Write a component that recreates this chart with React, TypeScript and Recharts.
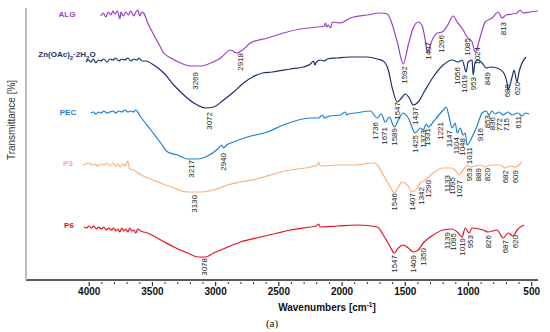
import { ComposedChart, Line, Scatter, XAxis, YAxis, Label } from "recharts";

// spectra: [wavenumber, offset transmittance]
const algSpectrum: [number, number][] = [
  [3908, 264], [3888, 267], [3868, 263], [3849, 268], [3829, 265], [3813, 269], [3797, 266], [3777, 269],
  [3757, 261], [3750, 268], [3730, 264], [3710, 268], [3690, 265], [3671, 269], [3647, 264], [3631, 268],
  [3616, 270], [3600, 264], [3584, 268], [3569, 267], [3537, 257], [3497, 247], [3458, 238], [3410, 227],
  [3355, 222], [3276, 217], [3197, 214], [3118, 214], [3039, 217], [2960, 222], [2882, 230], [2834, 227],
  [2787, 230], [2724, 237], [2590, 242], [2464, 247], [2329, 251], [2195, 253], [2140, 254], [2132, 257],
  [2120, 253], [2108, 255], [2090, 252], [2077, 258], [2013, 257], [1934, 262], [1800, 265], [1697, 267],
  [1642, 266], [1610, 258], [1563, 238], [1516, 216], [1476, 235], [1437, 252], [1397, 258], [1366, 254],
  [1342, 240], [1326, 228], [1287, 240], [1247, 247], [1208, 248], [1168, 254], [1121, 264], [1089, 258],
  [1042, 250], [1011, 243], [971, 238], [947, 228], [907, 243], [868, 258], [813, 262], [766, 268],
  [734, 262], [703, 265], [655, 266], [616, 267], [592, 270], [568, 267], [513, 268], [450, 269],
];

const znSpectrum: [number, number][] = [
  [4026, 218], [4006, 220], [3987, 218], [3967, 221], [3947, 217], [3928, 220], [3908, 219], [3884, 221],
  [3860, 218], [3837, 221], [3813, 220], [3790, 222], [3766, 219], [3742, 221], [3718, 220], [3695, 222],
  [3671, 219], [3647, 221], [3624, 220], [3604, 222], [3584, 219], [3553, 219], [3489, 215], [3410, 207],
  [3331, 195], [3252, 185], [3173, 177], [3079, 172], [3016, 173], [2937, 180], [2858, 188], [2779, 197],
  [2708, 203], [2629, 207], [2550, 208], [2408, 211], [2305, 213], [2250, 216], [2226, 219], [2215, 215],
  [2203, 218], [2171, 220], [2140, 219], [2116, 221], [2037, 222], [1934, 223], [1800, 223], [1721, 221],
  [1674, 219], [1634, 210], [1603, 192], [1563, 178], [1524, 183], [1500, 186], [1468, 182], [1437, 175],
  [1397, 178], [1342, 190], [1279, 203], [1200, 215], [1129, 220], [1082, 218], [1050, 220], [1018, 208],
  [1003, 218], [971, 220], [963, 205], [947, 218], [924, 220], [892, 217], [860, 212], [829, 213],
  [774, 212], [726, 208], [695, 197], [687, 190], [655, 203], [640, 210], [616, 198], [600, 208],
  [545, 223],
];

const pecSpectrum: [number, number][] = [
  [3987, 167], [3967, 168], [3947, 166], [3928, 168], [3908, 167], [3884, 169], [3860, 167], [3837, 168],
  [3813, 169], [3790, 167], [3766, 169], [3742, 168], [3718, 170], [3695, 168], [3671, 169], [3652, 168],
  [3632, 170], [3592, 163], [3513, 150], [3434, 137], [3379, 128], [3300, 125], [3221, 121], [3142, 121],
  [3063, 124], [2984, 131], [2952, 135], [2937, 132], [2913, 135], [2858, 138], [2748, 143], [2590, 148],
  [2464, 155], [2250, 162], [2187, 162], [2155, 165], [2140, 162], [2124, 163], [2092, 164], [2013, 165],
  [1974, 168], [1962, 165], [1950, 166], [1895, 167], [1776, 169], [1721, 162], [1690, 166], [1658, 158],
  [1626, 163], [1587, 153], [1547, 162], [1516, 167], [1476, 162], [1421, 147], [1381, 152], [1358, 150],
  [1334, 156], [1318, 153], [1279, 158], [1247, 163], [1200, 170], [1176, 173], [1153, 163], [1129, 152],
  [1105, 157], [1089, 147], [1066, 152], [1042, 145], [1026, 147], [1011, 135], [971, 143], [939, 152],
  [924, 157], [892, 167], [860, 169], [837, 165], [813, 169], [789, 166], [758, 168], [726, 165],
  [687, 168], [655, 165], [608, 167], [576, 164], [553, 167], [521, 166],
];

const p3Spectrum: [number, number][] = [
  [4050, 115], [4026, 116], [4002, 117], [3979, 115], [3955, 116], [3932, 114], [3908, 116], [3884, 115],
  [3860, 117], [3837, 114], [3813, 117], [3793, 114], [3773, 116], [3754, 113], [3734, 116], [3714, 114],
  [3695, 119], [3679, 111], [3647, 110], [3616, 107], [3537, 102], [3434, 97], [3331, 92], [3221, 88],
  [3118, 88], [3016, 90], [2905, 95], [2803, 98], [2645, 102], [2511, 107], [2408, 110], [2250, 113],
  [2195, 115], [2187, 118], [2171, 114], [2037, 115], [1911, 115], [1753, 117], [1713, 114], [1674, 105],
  [1618, 93], [1587, 87], [1555, 93], [1524, 98], [1484, 95], [1445, 88], [1405, 92], [1382, 97],
  [1342, 100], [1279, 107], [1200, 112], [1129, 112], [1105, 110], [1074, 105], [1042, 110], [1003, 115],
  [987, 113], [947, 114], [907, 115], [868, 113], [829, 115], [750, 115], [711, 112], [671, 114],
  [632, 113], [576, 118],
];

const p6Spectrum: [number, number][] = [
  [4042, 53], [4022, 52], [4002, 54], [3983, 52], [3963, 54], [3944, 51], [3924, 53], [3904, 51],
  [3884, 53], [3865, 50], [3845, 52], [3825, 50], [3805, 52], [3789, 49], [3773, 51], [3758, 48],
  [3742, 52], [3726, 49], [3711, 51], [3695, 48], [3679, 52], [3663, 49], [3647, 50], [3631, 47],
  [3616, 51], [3592, 49], [3537, 47], [3434, 40], [3331, 33], [3221, 27], [3142, 23], [3079, 23],
  [3016, 27], [2905, 33], [2803, 38], [2645, 43], [2511, 47], [2408, 50], [2250, 53], [2203, 54],
  [2187, 56], [2171, 53], [2037, 54], [1879, 55], [1721, 53], [1674, 45], [1618, 33], [1587, 27],
  [1555, 32], [1516, 35], [1476, 32], [1437, 28], [1397, 30], [1358, 37], [1279, 45], [1200, 50],
  [1129, 51], [1089, 48], [1050, 43], [1026, 52], [995, 47], [971, 52], [884, 50], [845, 48],
  [774, 50], [726, 42], [687, 47], [647, 44], [616, 50], [561, 55],
];

// band annotations: [text, wavenumber, value at top of label]
const algPeaks: [string, number, number][] = [
  ["3269", 3164, 208], ["2918", 2809, 227], ["1592", 1508, 214], ["1407", 1318, 238], ["1296", 1216, 245],
  ["1085", 1011, 242], ["1024", 932, 233], ["813", 726, 258],
];
const znPeaks: [string, number, number][] = [
  ["3072", 3054, 168], ["1547", 1563, 178], ["1437", 1421, 173], ["1056", 1089, 213], ["1019", 1034, 205],
  ["953", 963, 203], ["849", 852, 208], ["689", 695, 196], ["620", 616, 198],
];
const pecPeaks: [string, number, number][] = [
  ["3217", 3197, 120], ["2940", 2937, 127], ["1736", 1737, 158], ["1671", 1666, 153], ["1589", 1587, 152],
  ["1425", 1421, 145], ["1373", 1358, 150], ["1331", 1326, 152], ["1221", 1224, 158], ["1147", 1153, 150],
  ["1104", 1097, 143], ["1048", 1050, 142], ["1011", 995, 133], ["916", 908, 152], ["853", 853, 165],
  ["836", 813, 163], ["772", 758, 162], ["715", 703, 162], ["611", 608, 164],
];
const p3Peaks: [string, number, number][] = [
  ["3130", 3173, 85], ["1546", 1587, 87], ["1407", 1445, 87], ["1342", 1374, 93], ["1290", 1318, 100],
  ["1133", 1168, 105], ["1095", 1129, 103], ["1027", 1074, 100], ["953", 995, 112], ["889", 924, 112],
  ["820", 853, 112], ["682", 711, 110], ["609", 632, 110],
];
const p6Peaks: [string, number, number][] = [
  ["3078", 3087, 22], ["1547", 1587, 25], ["1409", 1437, 25], ["1350", 1358, 32], ["1139", 1168, 48],
  ["1095", 1121, 47], ["1019", 1050, 42], ["953", 987, 45], ["826", 845, 45], ["687", 711, 40],
  ["620", 632, 45],
];

const seriesNames = ["ALG", "Zn(OAc)₂·2H₂O", "PEC", "P3", "P6"];
const nameSpots: [number, number][] = [[4176, 266], [4176, 226], [4168, 168], [4168, 117], [4160, 55]];

const majorTicks = [4000, 3500, 3000, 2500, 2000, 1500, 1000, 500];
const minorTicks = [
  3900, 3800, 3700, 3600, 3400, 3300, 3200, 3100, 2900, 2800, 2700, 2600, 2400, 2300, 2200, 2100,
  1900, 1800, 1700, 1600, 1400, 1300, 1200, 1100, 900, 800, 700, 600,
];

const colors = ["#9b3fc6", "#1b2f6f", "#1d80d6", "#f8b27f", "#e3151c"];
const spectra = [algSpectrum, znSpectrum, pecSpectrum, p3Spectrum, p6Spectrum];
const peaks = [algPeaks, znPeaks, pecPeaks, p3Peaks, p6Peaks];

const toPoints = (rows: [number, number][]) => rows.map(([w, v]) => ({ w, v }));
const toTags = (rows: [string, number, number][]) => rows.map(([text, w, v]) => ({ text, w, v }));

function AxisTick(props: any) {
  const { x, y, payload } = props;
  const major = payload.value % 500 === 0;
  return (
    <g>
      <line x1={x} x2={x} y1={y + 2} y2={y + (major ? 6 : 4)} stroke="#333" strokeWidth={major ? 1.2 : 1} />
      {major && (
        <text x={x} y={y + 15} textAnchor="middle" fontSize={10} fontWeight="bold" fill="#111" fontFamily="Arial, 'Liberation Sans'">
          {payload.value}
        </text>
      )}
    </g>
  );
}

function PeakTag(props: any) {
  const { cx, cy, payload } = props;
  if (cx == null || cy == null) return null;
  return (
    <text x={cx} y={cy} dy="0.35em" transform={`rotate(-90 ${cx} ${cy})`} textAnchor="end"
      fontSize={8} fill="#222" fontFamily="Arial, 'Liberation Sans'">
      {payload.text}
    </text>
  );
}

function withSubscripts(text: string) {
  const parts = text.split("₂");
  const out: any[] = [];
  parts.forEach((p, i) => {
    out.push(<tspan key={"p" + i} dy={i > 0 ? -2.5 : undefined}>{p}</tspan>);
    if (i < parts.length - 1) out.push(<tspan key={"s" + i} dy={2.5} fontSize={6}>2</tspan>);
  });
  return out;
}

const makeNameTag = (color: string) => (props: any) => {
  const { cx, cy, payload } = props;
  if (cx == null || cy == null) return null;
  return (
    <text x={cx} y={cy + 3} textAnchor="middle" fontSize={8} fontWeight="bold" fill={color}
      fontFamily="Arial, 'Liberation Sans'">
      {withSubscripts(payload.text)}
    </text>
  );
};

// axis titles; drawn from the x axis label so they share its box
function Titles(props: any) {
  const vb = props.viewBox;
  const cx = vb.x + vb.width / 2 + 45;
  const yx = vb.x - 15;
  const yy = 120;
  return (
    <g fontFamily="Arial, 'Liberation Sans'">
      <text x={cx} y={vb.y + 31} textAnchor="middle" fontSize={10} fontWeight="bold" fill="#111">
        Wavenumbers [cm<tspan dy={-4} fontSize={6.5}>-1</tspan><tspan dy={4}>]</tspan>
      </text>
      <text x={cx - 55} y={vb.y + 47} textAnchor="middle" fontSize={11} fill="#111"
        fontFamily="'Liberation Serif', 'DejaVu Serif', serif">
        (a)
      </text>
      <text x={yx} y={yy} transform={`rotate(-90 ${yx} ${yy})`} textAnchor="middle" dy="0.35em"
        fontSize={10} fill="#333">
        Transmittance [%]
      </text>
    </g>
  );
}

export default function App() {
  const ticks = [...majorTicks, ...minorTicks].sort((a, b) => b - a);
  return (
    <div style={{ position: "absolute", left: 0, top: 0, background: "#fff" }}>
      <ComposedChart width={550} height={332} margin={{ top: 8, right: 12, bottom: 22, left: 25 }}>
        <XAxis
          type="number"
          dataKey="w"
          domain={[450, 4500]}
          reversed
          allowDataOverflow
          ticks={ticks}
          interval={0}
          tickLine={false}
          tickSize={0}
          tickMargin={0}
          tick={<AxisTick />}
          axisLine={{ stroke: "#222", strokeWidth: 1.5 }}
          height={30}
        >
          <Label content={<Titles />} />
        </XAxis>
        <YAxis
          type="number"
          domain={[0, 272]}
          allowDataOverflow
          width={1}
          tick={false}
          tickLine={false}
          axisLine={{ stroke: "#bdbdbd", strokeWidth: 2 }}
        />
        {spectra.map((rows, i) => (
          <Line
            key={seriesNames[i]}
            data={toPoints(rows)}
            dataKey="v"
            type="monotone"
            stroke={colors[i]}
            strokeWidth={1.2}
            dot={false}
            activeDot={false}
            isAnimationActive={false}
          />
        ))}
        {peaks.map((rows, i) => (
          <Scatter
            key={"peaks-" + seriesNames[i]}
            data={toTags(rows)}
            dataKey="v"
            shape={<PeakTag />}
            isAnimationActive={false}
          />
        ))}
        {seriesNames.map((name, i) => (
          <Scatter
            key={"name-" + name}
            data={[{ text: name, w: nameSpots[i][0], v: nameSpots[i][1] }]}
            dataKey="v"
            shape={makeNameTag(colors[i])}
            isAnimationActive={false}
          />
        ))}
      </ComposedChart>
    </div>
  );
}
